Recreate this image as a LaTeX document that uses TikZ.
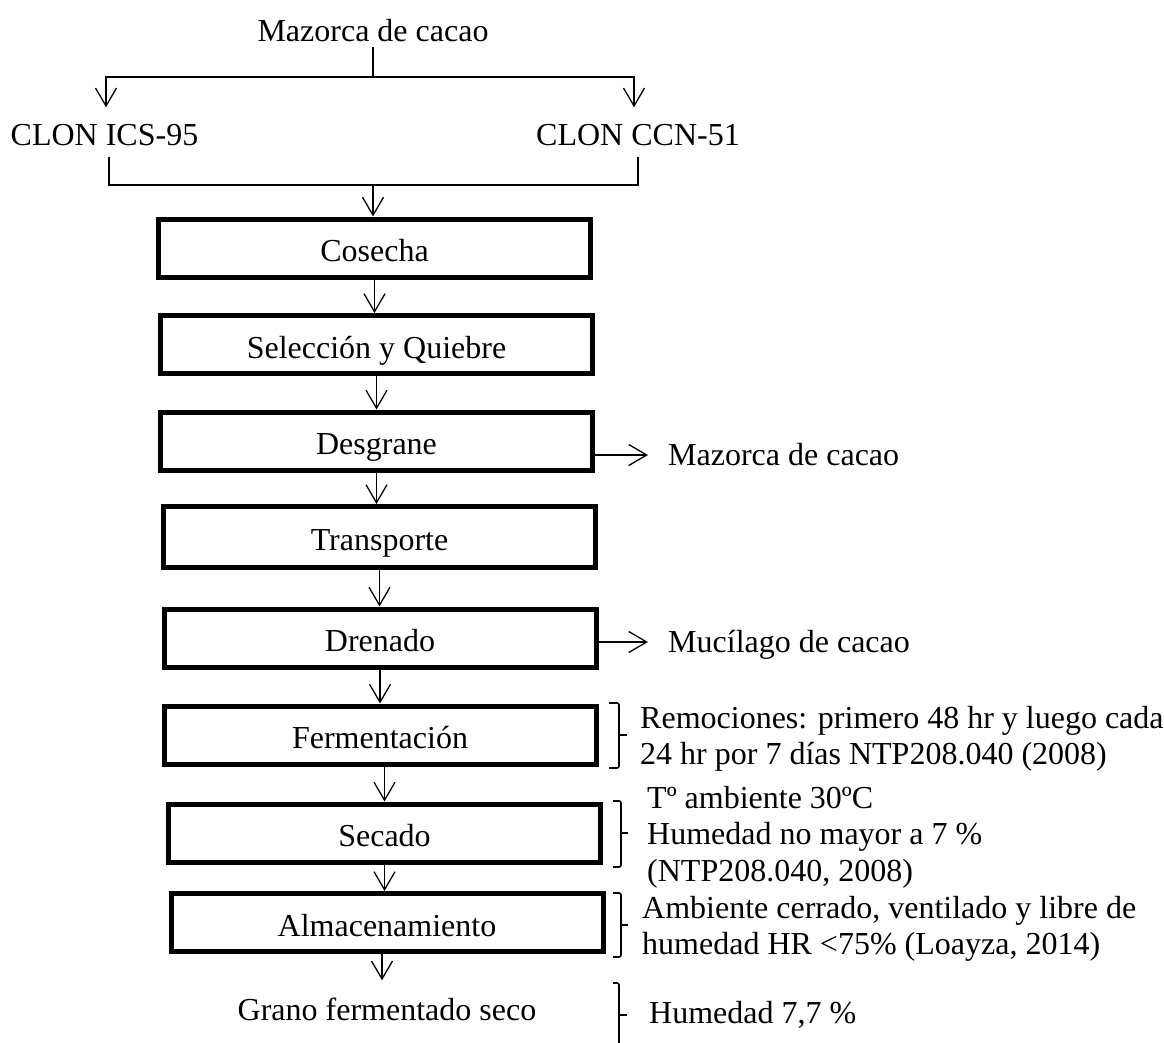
\documentclass[tikz,border=0pt]{standalone}
\usepackage{fontspec}
\setmainfont{Liberation Serif}
\usepackage{tikz}
\usetikzlibrary{arrows.meta}

\begin{document}
\begin{tikzpicture}[
    x=1pt, y=-1pt,
    >={Straight Barb[length=18pt, width=21pt]},
    every node/.style={font=\fontsize{32pt}{36.5pt}\selectfont},
    conn/.style={line width=1.3pt},
    box/.style={draw, line width=5pt, minimum width=432pt, minimum height=58pt, align=center, text height=27pt, text depth=0pt},
    txt/.style={inner sep=0pt, text height=21pt, text depth=0pt},
    note/.style={inner sep=0pt, anchor=north west, align=left},
    brk/.style={line width=1.6pt, rounded corners=2pt}
]
\useasboundingbox (0,0) rectangle (1164,1043);

% Nodes
\node[txt, text depth=5pt] (mazorca) at (373,34) {Mazorca de cacao};
\node[txt, text height=38pt, text depth=11pt] (ics) at (104.5,132) {CLON ICS-95};
\node[txt, text height=38pt, text depth=11pt] (ccn) at (638,132) {CLON CCN-51};

\node[box] (cosecha) at (374.5,248) {Cosecha};
\node[box] (seleccion) at (376.5,344.5) {Selección y Quiebre};
\node[box] (desgrane) at (376.5,441) {Desgrane};
\node[box, minimum height=61pt] (transporte) at (379.5,537) {Transporte};
\node[box] (drenado) at (380,638) {Drenado};
\node[box] (fermentacion) at (380,735) {Fermentación};
\node[box] (secado) at (384.5,833) {Secado};
\node[box] (almacenamiento) at (387,922.5) {Almacenamiento};
\node[txt] (grano) at (387,1010) {Grano fermentado seco};

% Side outputs and notes
\node[txt, anchor=west] (resto1) at (668,455) {Mazorca de cacao};
\node[txt, anchor=west] (resto2) at (668,642) {Mucílago de cacao};

\node[note] (notaferm) at (640,705.7) {Remociones: primero 48 hr y luego cada\\24 hr por 7 días NTP208.040 (2008)};
\node[note] (notasec) at (647,785.7) {Tº ambiente 30ºC\\Humedad no mayor a 7 \%\\(NTP208.040, 2008)};
\node[note] (notaalm) at (642,895.7) {Ambiente cerrado, ventilado y libre de\\humedad HR <75\% (Loayza, 2014)};
\node[note] (notagrano) at (649,1000.7) {Humedad 7,7 \%};

% Branches
\coordinate (split) at (373,77);
\coordinate (join) at (373,185);
\draw[conn] (mazorca.south) -- (split);
\draw[conn, ->] (split) -| ([xshift=1.5pt]ics.north);
\draw[conn, ->] (split) -| ([xshift=-4pt]ccn.north);
\draw[conn] ([xshift=4.5pt]ics.south) |- (join) -| (ccn.south);
\draw[conn, ->] (join) -- (join |- cosecha.north);

% Arrows
\draw[conn, ->] (cosecha.south) -- (cosecha.south |- seleccion.north);
\draw[conn, ->] (seleccion.south) -- (seleccion.south |- desgrane.north);
\draw[conn, ->] (desgrane.south) -- (desgrane.south |- transporte.north);
\draw[conn, ->] (transporte.south) -- (transporte.south |- drenado.north);
\draw[conn, ->] (drenado.south) -- (drenado.south |- fermentacion.north);
\draw[conn, ->] (secado.north |- fermentacion.south) -- (secado.north);
\draw[conn, ->] (secado.south) -- (secado.south |- almacenamiento.north);
\draw[conn, ->] ([xshift=-5pt]almacenamiento.south) -- ([xshift=-5pt, yshift=19pt]grano.north);

\draw[conn, ->] (desgrane.east |- resto1.west) -- ([xshift=-20pt]resto1.west);
\draw[conn, ->] (drenado.east |- resto2.west) -- ([xshift=-20pt]resto2.west);

% Brackets
\draw[brk] (609,703) -- (619,703) -- (619,768) -- (609,768);
\draw[brk] (619,735) -- (627,735);
\draw[brk] (613,801) -- (621,801) -- (621,867) -- (613,867);
\draw[brk] (621,833) -- (628,833);
\draw[brk] (613,893) -- (621,893) -- (621,957) -- (613,957);
\draw[brk] (621,925) -- (628,925);
\draw[brk] (613,983) -- (619,983) -- (619,1050);
\draw[brk] (619,1015) -- (627,1015);
\end{tikzpicture}
\end{document}
